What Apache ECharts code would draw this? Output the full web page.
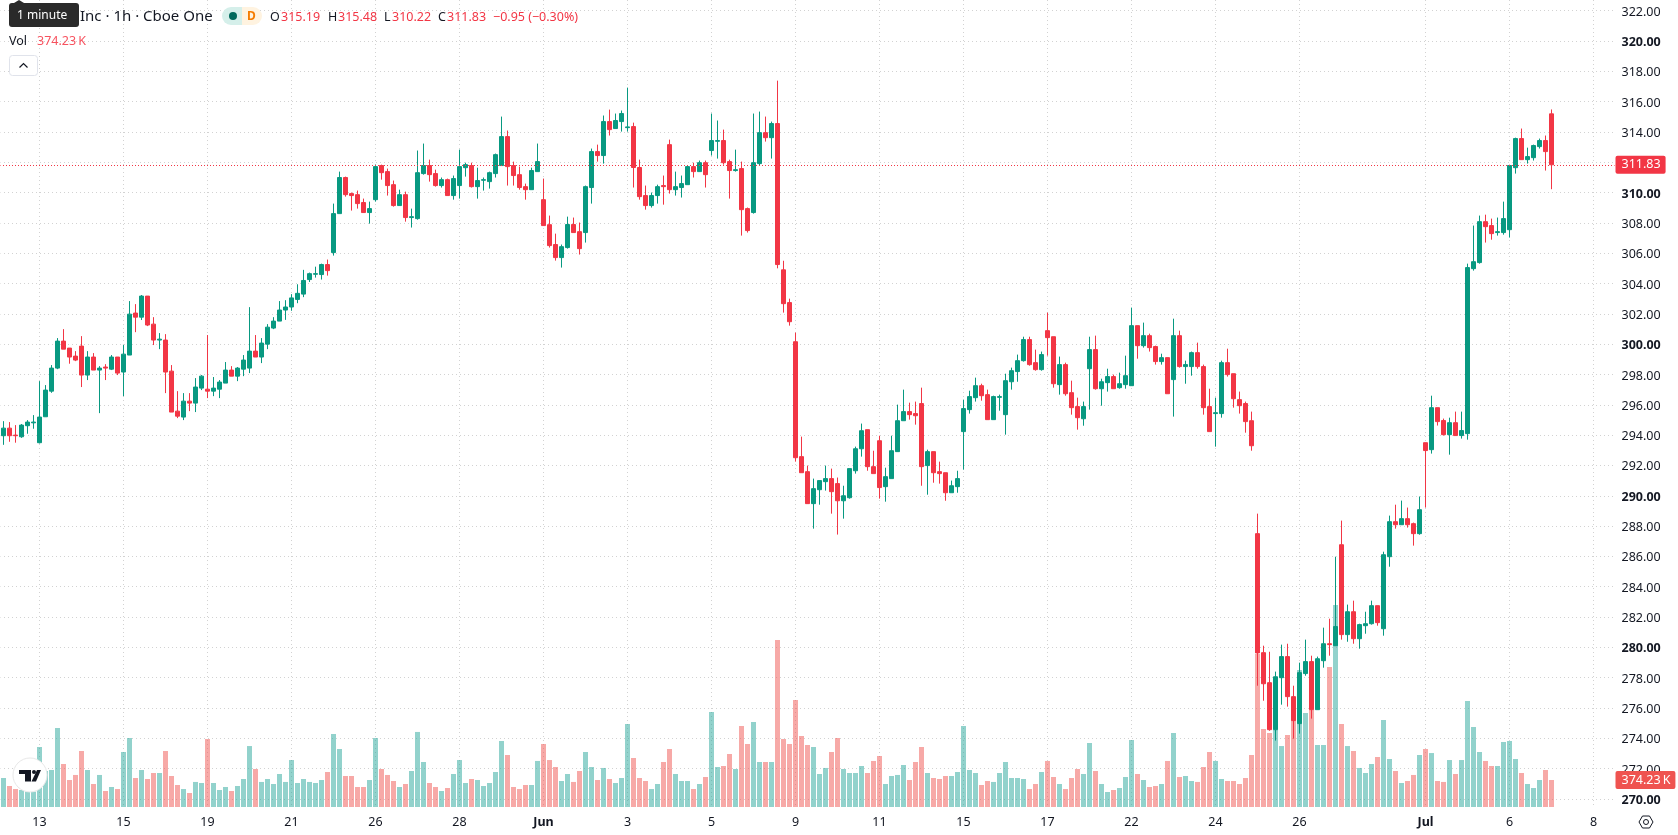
<!DOCTYPE html>
<html>
<head>
<meta charset="utf-8">
<title>Hourly candles</title>
<style>
html,body{margin:0;padding:0;background:#fff;overflow:hidden}
#chart{width:1678px;height:835px}
</style>
<script src="https://cdn.jsdelivr.net/npm/echarts@6/dist/echarts.min.js"></script>
</head>
<body>
<div id="chart"></div>
<script>
// Hourly OHLC prices, oldest bar first
const opens = [
293.96,294.46,294.00,293.89,294.62,294.81,293.50,295.21,296.90,298.42,
300.20,299.74,299.21,299.87,297.96,299.15,298.29,298.49,298.35,299.15,
298.16,299.28,302.05,301.78,303.17,301.32,300.27,300.27,298.22,295.58,
295.19,296.24,296.11,297.10,297.03,296.90,297.03,297.43,298.29,297.89,
298.35,298.42,299.54,299.15,300.00,301.06,301.52,302.25,302.45,302.95,
303.30,304.26,304.61,304.59,305.25,306.04,308.61,310.99,309.93,309.86,
309.34,308.68,309.53,311.78,311.38,310.52,309.14,309.86,308.35,308.28,
311.25,311.78,311.25,310.46,310.85,309.80,310.46,311.64,311.78,310.39,
310.81,310.72,311.25,311.78,313.69,311.78,311.18,310.39,310.19,311.38,
309.53,307.88,306.57,305.71,306.37,307.89,307.42,307.36,310.33,312.70,
312.44,314.68,314.22,314.68,314.28,314.35,311.65,309.80,309.14,309.80,
310.46,313.16,310.19,310.33,310.52,311.71,311.38,311.97,312.77,313.38,
313.43,312.04,311.45,311.58,308.94,308.68,311.91,313.95,313.62,314.55,
304.90,302.74,300.16,292.58,291.59,289.48,290.40,290.93,291.13,290.80,
289.67,289.87,291.65,293.10,294.36,291.92,293.63,290.60,291.13,292.91,
294.95,295.55,295.42,296.08,291.99,292.91,291.59,291.52,290.20,290.60,
294.23,295.68,296.47,297.26,296.67,295.02,296.49,295.35,297.52,298.19,
298.91,300.30,298.78,298.32,300.89,300.49,297.33,298.65,296.80,295.88,
295.08,298.38,299.64,297.06,297.46,297.86,297.13,297.33,297.26,301.22,
299.90,300.56,299.84,298.85,299.11,297.66,300.56,298.52,298.52,299.44,
298.52,295.88,295.42,295.42,298.78,298.05,296.34,296.08,294.95,287.50,
279.65,277.67,274.57,278.00,279.39,276.75,274.97,278.27,279.06,275.89,
279.12,280.24,280.11,286.77,280.84,282.35,280.57,281.43,281.56,282.75,
281.23,285.98,288.29,288.09,288.49,288.16,287.50,293.50,293.04,295.81,
294.96,294.03,294.82,293.97,294.10,304.98,305.38,308.08,307.82,307.36,
307.36,307.55,311.64,313.56,312.17,312.30,313.03,313.43,315.19];

const closes = [
294.46,293.96,293.96,294.66,294.86,294.86,295.19,296.97,298.42,300.20,
299.67,299.15,298.95,297.96,299.15,298.29,298.42,298.42,299.15,298.09,
299.34,301.98,301.78,303.17,301.26,300.27,300.33,298.16,295.52,295.25,
296.24,296.11,297.17,297.89,296.90,297.10,297.50,298.29,297.89,298.42,
298.95,299.54,299.15,300.07,301.12,301.52,302.25,302.45,303.05,303.35,
304.20,304.65,304.65,305.25,304.85,308.61,310.99,309.86,309.80,309.27,
308.68,308.94,311.71,311.31,310.46,309.14,309.86,308.35,308.41,311.31,
311.78,311.18,310.46,310.85,309.80,310.92,311.71,311.84,310.39,310.79,
310.85,311.31,312.50,313.69,311.71,311.12,310.33,310.19,311.45,312.04,
307.82,306.50,305.71,306.43,307.89,307.36,306.30,310.39,312.70,312.44,
314.68,314.15,314.75,315.21,314.33,311.65,309.73,309.14,309.80,310.39,
310.39,310.19,310.39,310.59,311.71,311.38,311.97,311.18,313.43,313.43,
311.97,311.45,311.51,308.87,307.49,311.97,313.95,313.62,314.55,305.25,
302.67,301.48,292.51,291.52,289.48,290.47,291.00,291.13,290.27,289.67,
290.00,291.79,293.10,294.29,291.92,291.46,290.54,291.26,292.97,294.95,
295.55,295.35,295.28,291.92,292.91,291.52,291.46,290.20,290.66,291.13,
295.75,296.54,297.26,296.60,295.02,296.54,296.54,297.59,298.25,298.91,
300.30,298.65,298.32,299.31,300.43,297.39,298.65,296.73,295.81,295.15,
295.88,299.64,297.06,297.52,297.86,297.06,297.39,297.92,301.22,299.90,
300.56,299.77,298.85,299.11,296.73,300.56,298.52,298.65,299.44,298.52,
295.81,294.23,295.48,298.78,297.99,296.40,295.94,294.89,293.30,279.63,
277.60,274.57,278.06,279.39,276.75,275.17,278.33,279.06,275.89,279.25,
280.24,280.18,281.37,280.84,282.35,280.57,281.50,281.56,282.75,281.63,
286.11,288.29,288.09,288.49,288.09,287.50,289.08,292.98,295.81,294.89,
294.03,294.82,293.97,294.30,305.05,305.44,308.08,307.75,307.29,307.42,
308.28,311.78,313.56,312.17,312.37,313.10,313.43,312.70,311.83];

const highs = [
294.92,294.86,294.66,294.73,294.99,295.32,297.56,297.30,298.62,300.40,
300.99,299.74,299.54,300.53,299.54,299.41,298.55,298.68,299.28,299.15,
299.94,302.84,302.64,303.24,303.17,301.78,300.73,300.66,298.62,296.90,
296.77,296.77,297.76,297.96,300.60,297.83,297.63,298.82,298.55,298.49,
299.28,302.44,300.60,300.40,301.32,301.78,302.84,302.90,303.30,303.95,
304.90,304.72,305.11,305.31,305.58,309.27,311.38,311.05,310.00,310.13,
309.60,309.40,311.84,311.84,311.58,310.79,310.19,310.06,308.94,312.77,
313.23,312.17,311.51,310.99,310.92,311.12,312.83,311.97,311.97,311.64,
310.99,311.38,312.57,315.01,314.09,312.04,311.71,310.59,311.64,313.23,
310.92,308.48,307.29,306.57,308.41,308.35,308.02,310.46,312.90,313.16,
315.08,315.47,315.21,315.41,316.92,314.61,312.17,310.46,310.00,310.52,
311.12,313.49,311.38,311.12,311.78,311.97,312.11,312.11,315.21,314.75,
314.15,312.17,312.83,312.04,309.01,315.21,315.34,315.01,314.68,317.38,
305.50,303.00,300.76,293.90,291.99,291.13,291.00,291.99,291.79,291.20,
290.66,291.79,293.24,294.76,294.36,292.97,293.96,291.85,293.96,296.01,
297.00,296.14,296.21,297.13,293.04,292.91,292.25,291.52,291.00,291.65,
296.34,296.93,297.79,297.39,297.00,296.60,296.67,298.05,298.45,299.31,
300.49,300.49,299.64,299.51,302.08,300.49,299.18,298.78,297.59,296.47,
296.21,300.49,300.56,297.72,298.38,297.99,298.12,299.24,302.41,301.22,
301.42,300.69,299.90,299.37,299.11,301.68,300.89,298.91,299.51,300.10,
298.65,297.06,296.47,298.91,299.70,298.05,296.87,296.21,295.55,288.82,
280.11,279.71,278.40,280.18,280.24,277.47,278.99,280.51,279.45,279.39,
281.30,281.89,285.98,288.36,282.82,283.08,281.56,282.35,283.08,282.75,
286.31,288.69,289.41,289.68,289.22,288.23,289.95,293.50,296.60,295.81,
295.09,295.15,295.55,295.55,305.31,307.82,308.48,308.54,308.28,308.35,
309.40,311.78,313.62,314.22,312.96,313.16,313.56,313.76,315.48];

const lows = [
293.36,293.56,293.50,293.82,294.09,294.42,293.45,295.21,296.79,298.35,
299.67,298.71,298.88,297.17,297.63,298.29,295.45,297.63,298.29,297.96,
296.57,299.28,300.79,301.59,301.19,299.94,299.67,296.77,295.52,295.12,
294.99,295.58,295.52,296.97,296.44,296.57,296.44,297.43,297.89,297.56,
297.89,298.09,299.15,298.75,299.67,300.99,301.52,301.60,302.20,302.70,
303.10,304.10,304.39,304.26,304.52,305.84,308.61,309.73,308.81,308.94,
308.68,307.95,309.40,310.85,309.80,309.07,309.14,308.08,307.69,308.21,
311.18,310.72,310.39,310.33,309.80,309.53,309.60,311.05,310.33,309.60,
310.13,310.26,310.99,311.78,310.46,310.46,310.19,309.53,310.19,311.38,
307.82,306.37,305.51,305.05,306.30,307.36,305.91,306.70,309.27,312.04,
311.91,313.76,314.22,314.02,314.02,310.33,309.53,308.87,309.01,309.27,
309.20,309.93,309.80,309.67,310.52,310.99,311.38,310.33,312.44,312.24,
311.84,309.60,311.38,307.16,307.36,308.61,311.78,313.36,312.24,305.00,
302.08,301.22,292.25,291.52,289.48,287.83,289.41,290.34,288.82,287.44,
288.49,289.81,291.46,292.58,291.65,291.46,289.81,289.61,291.13,292.91,
294.95,295.02,294.69,290.66,290.07,290.86,290.80,289.67,290.20,290.20,
291.72,295.42,296.21,296.27,295.02,295.02,295.61,294.03,297.00,297.52,
298.85,298.58,298.25,298.25,299.24,297.13,296.67,296.60,295.35,294.36,
294.62,295.68,297.00,295.94,296.87,297.06,297.06,297.06,297.26,299.04,
299.77,299.51,298.65,298.65,296.73,295.22,298.45,297.39,297.92,298.38,
295.35,294.23,293.24,295.15,297.86,295.81,295.42,294.16,292.97,277.47,
276.48,274.50,273.85,276.22,276.09,273.98,274.31,278.13,275.30,275.89,
278.66,279.45,280.11,280.51,280.37,280.24,279.91,280.90,281.50,281.43,
280.77,285.32,287.83,288.09,287.90,286.71,287.43,289.22,292.78,294.63,
293.97,292.71,293.97,293.77,293.70,304.85,305.31,306.70,306.89,307.16,
307.22,307.03,311.25,312.17,311.91,312.11,312.90,311.45,310.22];

// Traded volume per bar, in thousands of shares
const volumes = [
402,291,249,236,213,213,832,499,513,1095,
596,374,444,776,513,319,444,222,277,249,
762,956,402,513,388,471,471,776,430,305,
249,194,347,333,942,333,236,277,222,291,
388,845,527,347,388,319,457,347,651,333,
388,347,333,374,485,1012,804,430,430,277,
277,374,956,527,444,360,277,319,499,1040,
624,333,277,222,263,457,651,333,388,374,
291,333,485,915,721,277,249,305,305,638,
873,651,554,360,457,347,499,762,554,374,
541,388,333,402,1150,679,402,360,249,319,
624,804,457,360,360,249,319,416,1317,554,
568,735,527,1123,873,1178,624,624,624,2315,
942,873,1483,984,859,832,457,541,762,956,
527,471,471,568,471,638,707,319,430,444,
582,374,624,832,471,402,388,430,430,485,
1123,513,471,305,360,347,471,624,402,402,
388,249,319,485,638,416,319,249,402,527,
457,887,499,319,208,236,263,416,929,457,
374,277,291,319,638,1026,416,430,360,347,
554,762,638,388,360,360,319,402,721,2121,
1081,1026,1067,845,998,1206,1899,1303,1344,859,
859,1940,2800,1150,845,776,541,471,596,693,
1206,665,499,333,360,444,721,804,748,360,
347,651,457,651,1469,1109,762,638,568,568,
901,915,665,471,319,263,374,513,374.23];

// Time scale labels and the bar each one sits on
const timeTickBars = [6,20,34,48,62,76,90,104,118,132,146,160,174,188,202,216,237,251,265];
const timeTickLabels = ['13','15','19','21','26','28','Jun','3','5','9','11','15','17','22','24','26','Jul','6','8'];
const monthLabels = ['Jun','Jul'];

// Price scale
const priceTicks = [270,272,274,276,278,280,282,284,286,288,290,292,294,296,298,300,302,304,306,308,310,312,314,316,318,320,322];
const lastClose = closes[closes.length - 1];
const lastVolume = volumes[volumes.length - 1];
const volumeText = lastVolume.toFixed(2) + '\u2009K';

const UP = '#089981', DOWN = '#F23645';
const TEXT = '#131722';
const FONT = '"Noto Sans", sans-serif';
// The pane starts half a pixel in, so horizontal dashes carry a matching offset to stay crisp
const V_GRID_LINE = {color:'#d2d2d2', width:1, type:[1,3]};
const H_GRID_LINE = {color:'#d2d2d2', width:1, type:[1,3], dashOffset:0.5};

const candleData = opens.map((o,i)=>[i,o,closes[i],lows[i],highs[i]]);
const volumeData = volumes.map((v,i)=>({
  value:[i,v],
  itemStyle:{color: closes[i] >= opens[i] ? 'rgba(38,166,154,0.5)' : 'rgba(239,83,80,0.5)'}
}));

const chart = echarts.init(document.getElementById('chart'), null, {renderer:'canvas'});

const text = (x,y,str,fill,size,weight) => ({
  type:'text', x, y, z:22, silent:true,
  style:{text:str, fill, font:`${weight||'normal'} ${size}px ${FONT}`, textVerticalAlign:'middle'}
});

chart.setOption({
  animation:false,
  backgroundColor:'#ffffff',
  textStyle:{fontFamily:FONT},
  grid:{left:0.5, top:0, width:1614, height:807, containLabel:false, show:false},
  xAxis:{
    type:'value', min:-0.5, max:268.5,
    axisLine:{show:false},
    axisTick:{show:false, customValues:timeTickBars},
    splitLine:{show:true, lineStyle:V_GRID_LINE},
    axisLabel:{
      customValues:timeTickBars, margin:9, fontSize:12.5, color:TEXT, fontFamily:FONT,
      formatter:(v)=>{
        const s = timeTickLabels[timeTickBars.indexOf(v)];
        return monthLabels.includes(s) ? `{b|${s}}` : s;
      },
      rich:{b:{fontWeight:'bold', fontSize:12.5, color:TEXT, fontFamily:FONT}}
    }
  },
  yAxis:[{
    type:'value', position:'right', min:269.47, max:322.70, scale:true,
    axisLine:{show:false},
    axisTick:{show:false, customValues:priceTicks},
    splitLine:{show:true, lineStyle:H_GRID_LINE},
    axisLabel:{
      customValues:priceTicks, inside:false, margin:7, fontSize:12.5, color:TEXT, fontFamily:FONT,
      padding:[3,0,0,0],
      formatter:(v)=> v % 10 === 0 ? `{b|${v.toFixed(2)}}` : v.toFixed(2),
      rich:{b:{fontWeight:'bold', fontSize:12.5, color:TEXT, fontFamily:FONT}}
    }
  },{
    type:'value', min:0, max:11185, show:false, splitLine:{show:false}
  }],
  series:[{
    type:'bar', name:'Vol', xAxisIndex:0, yAxisIndex:1, data:volumeData, barWidth:5, silent:true, z:2,
    markLine:{
      silent:true, symbol:'none', animation:false,
      lineStyle:{color:'transparent', width:0},
      label:{
        position:'end', distance:1, formatter:()=>volumeText, color:'#fff',
        backgroundColor:'#EF5350', padding:[3,5,2,6], borderRadius:2, fontSize:12.5, fontFamily:FONT
      },
      data:[{yAxis:lastVolume}]
    }
  },{
    type:'candlestick', name:'Price', xAxisIndex:0, yAxisIndex:0, data:candleData, barWidth:4, silent:true, z:3,
    itemStyle:{color:UP, color0:DOWN, borderColor:UP, borderColor0:DOWN, borderWidth:1},
    markLine:{
      silent:true, symbol:'none', animation:false,
      lineStyle:{color:DOWN, width:1, type:[1,2], dashOffset:0.5},
      label:{
        position:'end', distance:1, formatter:()=>lastClose.toFixed(2), color:'#fff',
        backgroundColor:DOWN, padding:[3,5,2,6], borderRadius:2, fontSize:12.5, fontFamily:FONT
      },
      data:[{yAxis:lastClose}]
    }
  }],
  graphic:[
    // Legend row
    text(80,17,'Inc · 1h · Cboe One',TEXT,15),
    {type:'rect', z:19, silent:true, shape:{x:222,y:7,width:20,height:18,r:[9,0,0,9]}, style:{fill:'#D5EFEA'}},
    {type:'rect', z:19, silent:true, shape:{x:242,y:7,width:20,height:18,r:[0,9,9,0]}, style:{fill:'#FFF3E0'}},
    {type:'circle', z:20, silent:true, shape:{cx:233,cy:16,r:4}, style:{fill:'#00695C'}},
    text(247,16.5,'D','#F57C00',12,'bold'),
    text(270,17,'O',TEXT,12.5), text(281,17,opens[opens.length-1].toFixed(2),DOWN,12.5),
    text(328,17,'H',TEXT,12.5), text(338,17,highs[highs.length-1].toFixed(2),DOWN,12.5),
    text(384,17,'L',TEXT,12.5), text(392,17,lows[lows.length-1].toFixed(2),DOWN,12.5),
    text(438,17,'C',TEXT,12.5), text(447,17,lastClose.toFixed(2),DOWN,12.5),
    text(493,17,'−0.95 (−0.30%)',DOWN,12.5),
    text(9,41,'Vol',TEXT,12.5),
    text(37,41,volumeText,'#F7525F',12.5),
    // Collapse button
    {type:'rect', z:19, silent:true, shape:{x:9.5,y:55.5,width:28,height:20,r:3}, style:{fill:'#fff', stroke:'#E0E3EB', lineWidth:1}},
    {type:'polyline', z:20, silent:true, shape:{points:[[19.5,67.5],[23.5,63.5],[27.5,67.5]]}, style:{fill:null, stroke:TEXT, lineWidth:1.2}},
    // Hover hint
    {type:'polygon', z:21, silent:true, shape:{points:[[14,3],[19,0],[24,3]]}, style:{fill:'#2A2A2A'}},
    {type:'rect', z:21, silent:true, shape:{x:9,y:3,width:70,height:24,r:3}, style:{fill:'#2A2A2A'}},
    text(17,16,'1 minute','#ffffff',12),
    // Brand badge
    {type:'circle', z:19, silent:true, shape:{cx:30,cy:775,r:17}, style:{fill:'#fff', stroke:'#E8E8E8', lineWidth:1}},
    {type:'polygon', z:20, silent:true, shape:{points:[[19,770],[31,770],[31,781.5],[25,781.5],[25,774],[19,774]]}, style:{fill:'#131722'}},
    {type:'circle', z:20, silent:true, shape:{cx:34,cy:772,r:2}, style:{fill:'#131722'}},
    {type:'polygon', z:20, silent:true, shape:{points:[[37,770],[41,770],[36,781.5],[31.5,781.5]]}, style:{fill:'#131722'}},
    // Scale settings icon
    {type:'polygon', z:20, silent:true, shape:{points:[[1639,822],[1642.5,816],[1649.5,816],[1653,822],[1649.5,828],[1642.5,828]]}, style:{fill:'none', stroke:TEXT, lineWidth:1}},
    {type:'circle', z:20, silent:true, shape:{cx:1646,cy:822,r:2.5}, style:{fill:'none', stroke:TEXT, lineWidth:1}}
  ]
});
</script>
</body>
</html>
